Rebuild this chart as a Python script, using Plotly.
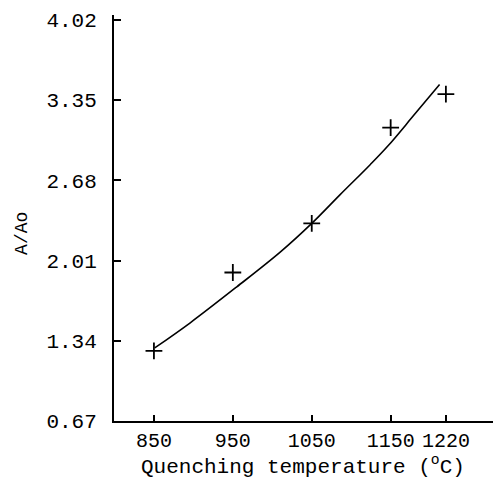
import plotly.graph_objects as go

# Measured data points (crosses)
temp_points = [850, 950, 1050, 1150, 1220]
ratio_points = [1.255, 1.91, 2.32, 3.12, 3.40]

# Fitted curve
temp_curve = [851, 896, 955, 1010, 1050, 1086, 1124, 1147, 1179, 1212]
ratio_curve = [1.28, 1.49, 1.79, 2.08, 2.32, 2.56, 2.81, 2.97, 3.22, 3.48]

x_ticks = [850, 950, 1050, 1150, 1220]
x_tick_labels = ["850", "950", "1050", "1150", "1220"]
y_ticks = [0.67, 1.34, 2.01, 2.68, 3.35, 4.02]
y_tick_labels = ["0.67", "1.34", "2.01", "2.68", "3.35", "4.02"]

x_title = "Quenching temperature (<sup>o</sup>C)"
y_title = "A/Ao"

FONT = "Liberation Mono"

fig = go.Figure()
fig.add_trace(go.Scatter(
    x=temp_curve, y=ratio_curve, mode="lines",
    line=dict(color="black", width=1.6, shape="spline", smoothing=1.0),
    showlegend=False, hoverinfo="skip"))
fig.add_trace(go.Scatter(
    x=temp_points, y=ratio_points, mode="markers",
    marker=dict(symbol="cross-thin", size=12, line=dict(color="black", width=1.8)),
    showlegend=False))

fig.update_layout(
    width=497, height=493,
    margin=dict(l=114, r=4, t=15, b=72),
    paper_bgcolor="white", plot_bgcolor="white",
    font=dict(family=FONT, color="black", size=20),
    xaxis=dict(
        range=[799.4, 1279.7], tickmode="array", tickvals=x_ticks, ticktext=x_tick_labels,
        ticks="inside", ticklen=6, tickwidth=1.5, tickcolor="black",
        showline=True, linecolor="black", linewidth=2, showgrid=False, zeroline=False,
        tickfont=dict(family=FONT, size=20), ticklabelstandoff=0, automargin=False,
    ),
    yaxis=dict(
        range=[0.67, 4.06], tickmode="array", tickvals=y_ticks, ticktext=y_tick_labels,
        ticks="inside", ticklen=7, tickwidth=1.5, tickcolor="black",
        showline=True, linecolor="black", linewidth=2, showgrid=False, zeroline=False,
        tickfont=dict(family=FONT, size=21), ticklabelstandoff=11, automargin=False,
    ),
    annotations=[
        dict(text=y_title, textangle=-90, xref="paper", yref="paper",
             x=-0.243, y=0.463, showarrow=False, font=dict(family=FONT, size=18),
             xanchor="center", yanchor="middle"),
        dict(text=x_title, xref="paper", yref="paper",
             x=0.499, y=-0.1108, showarrow=False, font=dict(family=FONT, size=21),
             xanchor="center", yanchor="middle"),
    ],
)

fig.write_html("out.html", config={"displayModeBar": False},
               post_script="document.body.style.margin='0';document.body.style.overflow='hidden';")
